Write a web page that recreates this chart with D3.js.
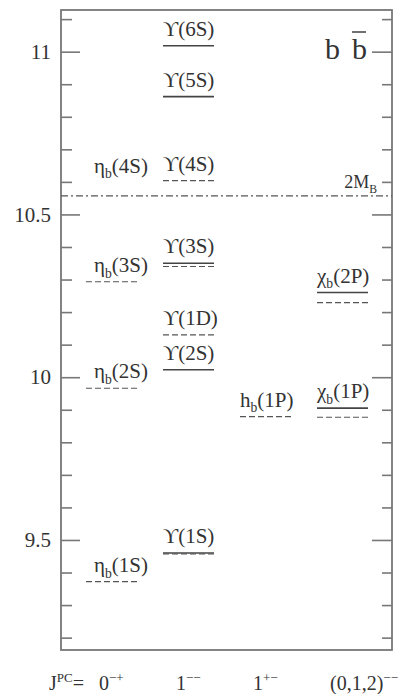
<!DOCTYPE html>
<html>
<head>
<meta charset="utf-8">
<script src="https://cdn.jsdelivr.net/npm/d3@7"></script>
<style>
  body { margin: 0; background: #fff; }
  svg { display: block; }
</style>
</head>
<body>
<svg id="chart" width="398" height="694"></svg>
<script>
// Bottomonium (b b-bar) spectrum, masses in GeV.
// Solid levels: measured masses; dashed levels: model predictions.
const jpcColumns = ["0-+", "1--", "1+-", "(0,1,2)--"];
const jpcLabels  = ["0^\u2212+", "1^\u2212\u2212", "1^+\u2212", "(0,1,2)^\u2212\u2212"];

const stateNames = ["η_b(1S)", "η_b(2S)", "η_b(3S)",
                    "ϒ(1S)", "ϒ(2S)", "ϒ(1D)", "ϒ(3S)", "ϒ(4S)", "ϒ(5S)", "ϒ(6S)",
                    "h_b(1P)", "χ_b(1P)", "χ_b(2P)"];
const stateJpc = ["0-+", "0-+", "0-+",
                  "1--", "1--", "1--", "1--", "1--", "1--", "1--",
                  "1+-", "(0,1,2)--", "(0,1,2)--"];
const measuredMass  = [null, null, null,
                       9.460, 10.023, null, 10.350, null, 10.862, 11.018,
                       null, 9.905, 10.260];
const predictedMass = [9.372, 9.966, 10.293,
                       9.457, null, 10.130, 10.340, 10.604, null, null,
                       9.879, 9.877, 10.229];

// state named without a drawn level
const unmarkedNames = ["η_b(4S)"];
const unmarkedJpc   = ["0-+"];
const unmarkedMass  = [10.598];

// open-bottom threshold 2 M_B
const thresholdMass  = 10.557;
const thresholdLabel = "2M_B";

const majorTicks = [9.5, 10, 10.5, 11];
const minorTicks = [9.2, 9.3, 9.4, 9.6, 9.7, 9.8, 9.9, 10.1, 10.2, 10.3, 10.4,
                    10.6, 10.7, 10.8, 10.9, 11.1];

const FONT = "Liberation Serif";
const INK = "#333";
const svg = d3.select("#chart");
const frame = { left: 61, right: 392, top: 10, bottom: 650 };

const y = d3.scaleLinear().domain([9.162, 11.128]).range([frame.bottom, frame.top]);
const x = d3.scaleBand().domain(jpcColumns).range([86, 368])
  .paddingInner(26 / 77).paddingOuter(0);

// text with _sub and ^sup parts
function richText(sel, label, size) {
  sel.attr("font-family", FONT).attr("font-size", size).attr("fill", INK);
  const parts = label.split(/([_^][^(=]+)/).filter(p => p.length);
  let shift = 0;
  parts.forEach(p => {
    const t = sel.append("tspan");
    if (p[0] === "_" || p[0] === "^") {
      const target = p[0] === "_" ? size * 0.28 : -size * 0.42;
      t.attr("dy", target - shift).attr("font-size", size * 0.65).text(p.slice(1));
      shift = target;
    } else {
      t.attr("dy", -shift).text(p);
      shift = 0;
    }
  });
  return sel;
}

// axes: ticks point inward on both sides
const fmt = d3.format("~g");
const axisColor = "#777";
function styleAxis(g) {
  g.select(".domain").remove();
  g.selectAll(".tick line").attr("stroke", axisColor).attr("stroke-width", 1.6);
}
svg.append("g").attr("transform", `translate(${frame.left},0)`)
  .call(d3.axisLeft(y).tickValues(minorTicks).tickSize(-11).tickFormat(""))
  .call(styleAxis);
svg.append("g").attr("transform", `translate(${frame.left},0)`)
  .call(d3.axisLeft(y).tickValues(majorTicks).tickSize(-19).tickPadding(10).tickFormat(fmt))
  .call(styleAxis)
  .call(g => g.attr("font-family", FONT).attr("font-size", 21))
  .call(g => g.selectAll(".tick text").attr("fill", INK));
svg.append("g").attr("transform", `translate(${frame.right},0)`)
  .call(d3.axisRight(y).tickValues(minorTicks).tickSize(-10).tickFormat(""))
  .call(styleAxis);
svg.append("g").attr("transform", `translate(${frame.right},0)`)
  .call(d3.axisRight(y).tickValues(majorTicks).tickSize(-20).tickFormat(""))
  .call(styleAxis);

svg.append("rect")
  .attr("x", frame.left).attr("y", frame.top)
  .attr("width", frame.right - frame.left).attr("height", frame.bottom - frame.top)
  .attr("fill", "none").attr("stroke", axisColor).attr("stroke-width", 1.8);

// threshold line
svg.append("line")
  .attr("x1", frame.left).attr("x2", frame.right)
  .attr("y1", y(thresholdMass)).attr("y2", y(thresholdMass))
  .attr("stroke", "#555").attr("stroke-width", 1.1)
  .attr("stroke-dasharray", "7,3,2,3");
richText(svg.append("text")
  .attr("x", frame.right - 15).attr("y", y(thresholdMass) - 8)
  .attr("text-anchor", "end"), thresholdLabel, 18);

// energy levels
const states = stateNames.map((name, i) => ({
  name, jpc: stateJpc[i], measured: measuredMass[i], predicted: predictedMass[i]
}));
const levels = svg.append("g");
levels.selectAll("line.measured")
  .data(states.filter(d => d.measured != null))
  .join("line").attr("class", "measured")
  .attr("x1", d => x(d.jpc)).attr("x2", d => x(d.jpc) + x.bandwidth())
  .attr("y1", d => y(d.measured)).attr("y2", d => y(d.measured))
  .attr("stroke", "#444").attr("stroke-width", 1.6);
levels.selectAll("line.predicted")
  .data(states.filter(d => d.predicted != null))
  .join("line").attr("class", "predicted")
  .attr("x1", d => x(d.jpc)).attr("x2", d => x(d.jpc) + x.bandwidth())
  .attr("y1", d => y(d.predicted)).attr("y2", d => y(d.predicted))
  .attr("stroke", "#555").attr("stroke-width", 1.1)
  .attr("stroke-dasharray", "6,3");

const labelSize = 21;
const labelled = states.map(d => ({ name: d.name, jpc: d.jpc,
    mass: d3.max([d.measured, d.predicted]) }))
  .concat(unmarkedNames.map((name, i) => ({ name, jpc: unmarkedJpc[i], mass: unmarkedMass[i] })));
labelled.forEach(d => {
  richText(levels.append("text")
    .attr("x", x(d.jpc) + (d.jpc === "0-+" ? 8 : 0))
    .attr("y", y(d.mass) - 10), d.name, labelSize);
});

// b b-bar title
const title = svg.append("g").attr("transform", `translate(${frame.right - 67},59)`);
title.append("text").attr("font-family", FONT).attr("font-size", 30).attr("fill", INK).text("b");
title.append("text").attr("x", 27).attr("font-family", FONT).attr("font-size", 30)
  .attr("fill", INK).text("b");
title.append("line").attr("x1", 27).attr("x2", 41).attr("y1", -27).attr("y2", -27)
  .attr("stroke", INK).attr("stroke-width", 1.4);

// J^PC row
const bottomY = 690;
richText(svg.append("text").attr("x", 49).attr("y", bottomY), "J^PC=", 20);
jpcColumns.forEach((c, i) => {
  richText(svg.append("text").attr("x", x(c) + 13).attr("y", bottomY), jpcLabels[i], 20);
});
</script>
</body>
</html>
